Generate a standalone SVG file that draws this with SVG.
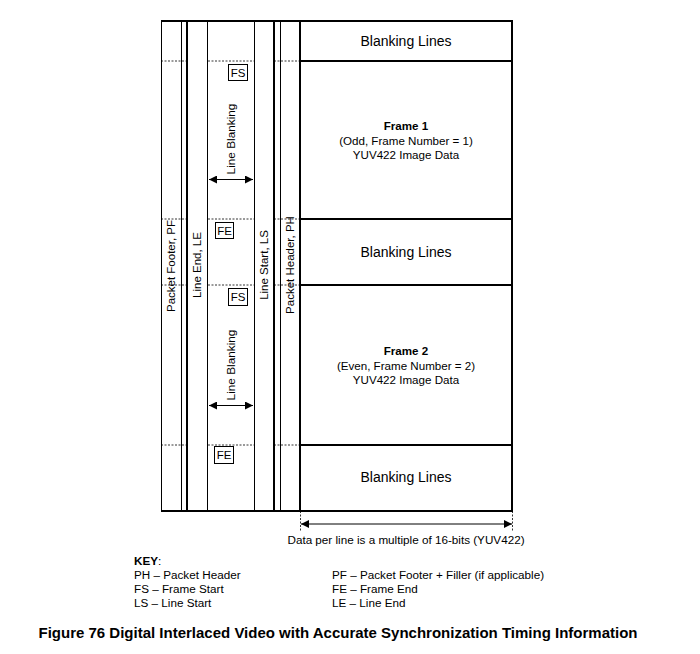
<svg xmlns="http://www.w3.org/2000/svg" width="700" height="654" viewBox="0 0 700 654">
<style>
text{font-family:"Liberation Sans",Arial,sans-serif;fill:#000}
.thin{stroke:#000;stroke-width:1;fill:none}
.thick{stroke:#000;stroke-width:2;fill:none}
.dash{stroke:#000;stroke-width:0.8;stroke-dasharray:2,1.5;fill:none}
.box{stroke:#000;stroke-width:1;fill:#fff}
.col{font-size:11.5px}
.lb{font-size:11.8px}
.bl{font-size:14px}
.fr{font-size:11.6px}
.key{font-size:11.7px}
</style>
<defs>
<marker id="ah" viewBox="0 0 10 10" refX="10" refY="5" markerWidth="10" markerHeight="8" markerUnits="userSpaceOnUse" orient="auto-start-reverse">
<path d="M0,0 L10,5 L0,10 z" fill="#000"/>
</marker>
</defs>
<rect width="700" height="654" fill="#fff"/>

<g id="columns">
<line class="thin" x1="161.5" y1="21" x2="161.5" y2="511"/>
<line class="thin" x1="181.5" y1="21" x2="181.5" y2="511"/>
<line class="thick" x1="187" y1="21" x2="187" y2="511"/>
<line class="thin" x1="207.5" y1="21" x2="207.5" y2="511"/>
<line class="thin" x1="254.5" y1="21" x2="254.5" y2="511"/>
<line class="thick" x1="274" y1="21" x2="274" y2="511"/>
<line class="thin" x1="280.5" y1="21" x2="280.5" y2="511"/>
<line class="thick" x1="161" y1="21" x2="512" y2="21"/>
<line class="thick" x1="161" y1="511" x2="512" y2="511"/>
</g>

<g id="dashes">
<path class="dash" d="M161,61 H187 M208,61 H254 M274,61 H300"/>
<path class="dash" d="M161,219 H187 M208,219 H254 M274,219 H300"/>
<path class="dash" d="M161,285 H187 M208,285 H254 M274,285 H300"/>
<path class="dash" d="M161,445 H187 M208,445 H254 M274,445 H300"/>
</g>

<g id="col-labels">
<text class="col" transform="translate(175,266) rotate(-90)" text-anchor="middle">Packet Footer, PF</text>
<text class="col" transform="translate(201,265) rotate(-90)" text-anchor="middle">Line End, LE</text>
<text class="col" transform="translate(268,265) rotate(-90)" text-anchor="middle">Line Start, LS</text>
<text class="col" transform="translate(294,265) rotate(-90)" text-anchor="middle">Packet Header, PH</text>
</g>

<g id="fs1"><rect class="box" x="228.5" y="64.5" width="19" height="16"/><text class="col" x="238" y="76.5" text-anchor="middle">FS</text></g>
<g id="fe1"><rect class="box" x="215.5" y="222.5" width="18" height="16"/><text class="col" x="224.5" y="234.5" text-anchor="middle">FE</text></g>
<g id="fs2"><rect class="box" x="228.5" y="288.5" width="19" height="17"/><text class="col" x="238" y="301" text-anchor="middle">FS</text></g>
<g id="fe2"><rect class="box" x="214.5" y="446.5" width="19" height="17"/><text class="col" x="224" y="459" text-anchor="middle">FE</text></g>

<g id="lb1">
<text class="lb" transform="translate(235,139) rotate(-90)" text-anchor="middle">Line Blanking</text>
</g>
<g id="lb2">
<text class="lb" transform="translate(235,365) rotate(-90)" text-anchor="middle">Line Blanking</text>
</g>

<g id="frames">
<rect class="thick" x="300" y="21" width="212" height="490"/>
<line class="thick" x1="300" y1="61" x2="512" y2="61"/>
<line class="thick" x1="300" y1="219" x2="512" y2="219"/>
<line class="thick" x1="300" y1="285" x2="512" y2="285"/>
<line class="thick" x1="300" y1="445" x2="512" y2="445"/>
</g>
<g id="blank1"><text class="bl" x="406" y="46" text-anchor="middle">Blanking Lines</text></g>
<g id="frame1">
<text class="fr" x="406" y="130" text-anchor="middle" font-weight="bold">Frame 1</text>
<text class="fr" x="406" y="145" text-anchor="middle">(Odd, Frame Number = 1)</text>
<text class="fr" x="406" y="159" text-anchor="middle">YUV422 Image Data</text>
</g>
<g id="blank2"><text class="bl" x="406" y="257" text-anchor="middle">Blanking Lines</text></g>
<g id="frame2">
<text class="fr" x="406" y="355" text-anchor="middle" font-weight="bold">Frame 2</text>
<text class="fr" x="406" y="370" text-anchor="middle">(Even, Frame Number = 2)</text>
<text class="fr" x="406" y="384" text-anchor="middle">YUV422 Image Data</text>
</g>
<g id="blank3"><text class="bl" x="406" y="482" text-anchor="middle">Blanking Lines</text></g>

<g id="connectors">
<line class="thin" x1="209" y1="179.5" x2="253" y2="179.5" marker-start="url(#ah)" marker-end="url(#ah)"/>
<line class="thin" x1="209" y1="405.5" x2="253" y2="405.5" marker-start="url(#ah)" marker-end="url(#ah)"/>
<line class="dash" x1="300.5" y1="511" x2="300.5" y2="531"/>
<line class="dash" x1="512.5" y1="511" x2="512.5" y2="531"/>
<line class="thin" x1="301" y1="524" x2="512" y2="524" marker-start="url(#ah)" marker-end="url(#ah)" stroke-width="1.3"/>
</g>
<text class="key" x="406" y="544" text-anchor="middle">Data per line is a multiple of 16-bits (YUV422)</text>

<g id="key">
<text class="key" x="134" y="565"><tspan font-weight="bold">KEY</tspan>:</text>
<text class="key" x="134" y="579">PH – Packet Header</text>
<text class="key" x="134" y="593">FS – Frame Start</text>
<text class="key" x="134" y="607">LS – Line Start</text>
<text class="key" x="332" y="579">PF – Packet Footer + Filler (if applicable)</text>
<text class="key" x="332" y="593">FE – Frame End</text>
<text class="key" x="332" y="607">LE – Line End</text>
</g>
<text x="338" y="638" text-anchor="middle" font-size="15" font-weight="bold">Figure 76 Digital Interlaced Video with Accurate Synchronization Timing Information</text>
</svg>
